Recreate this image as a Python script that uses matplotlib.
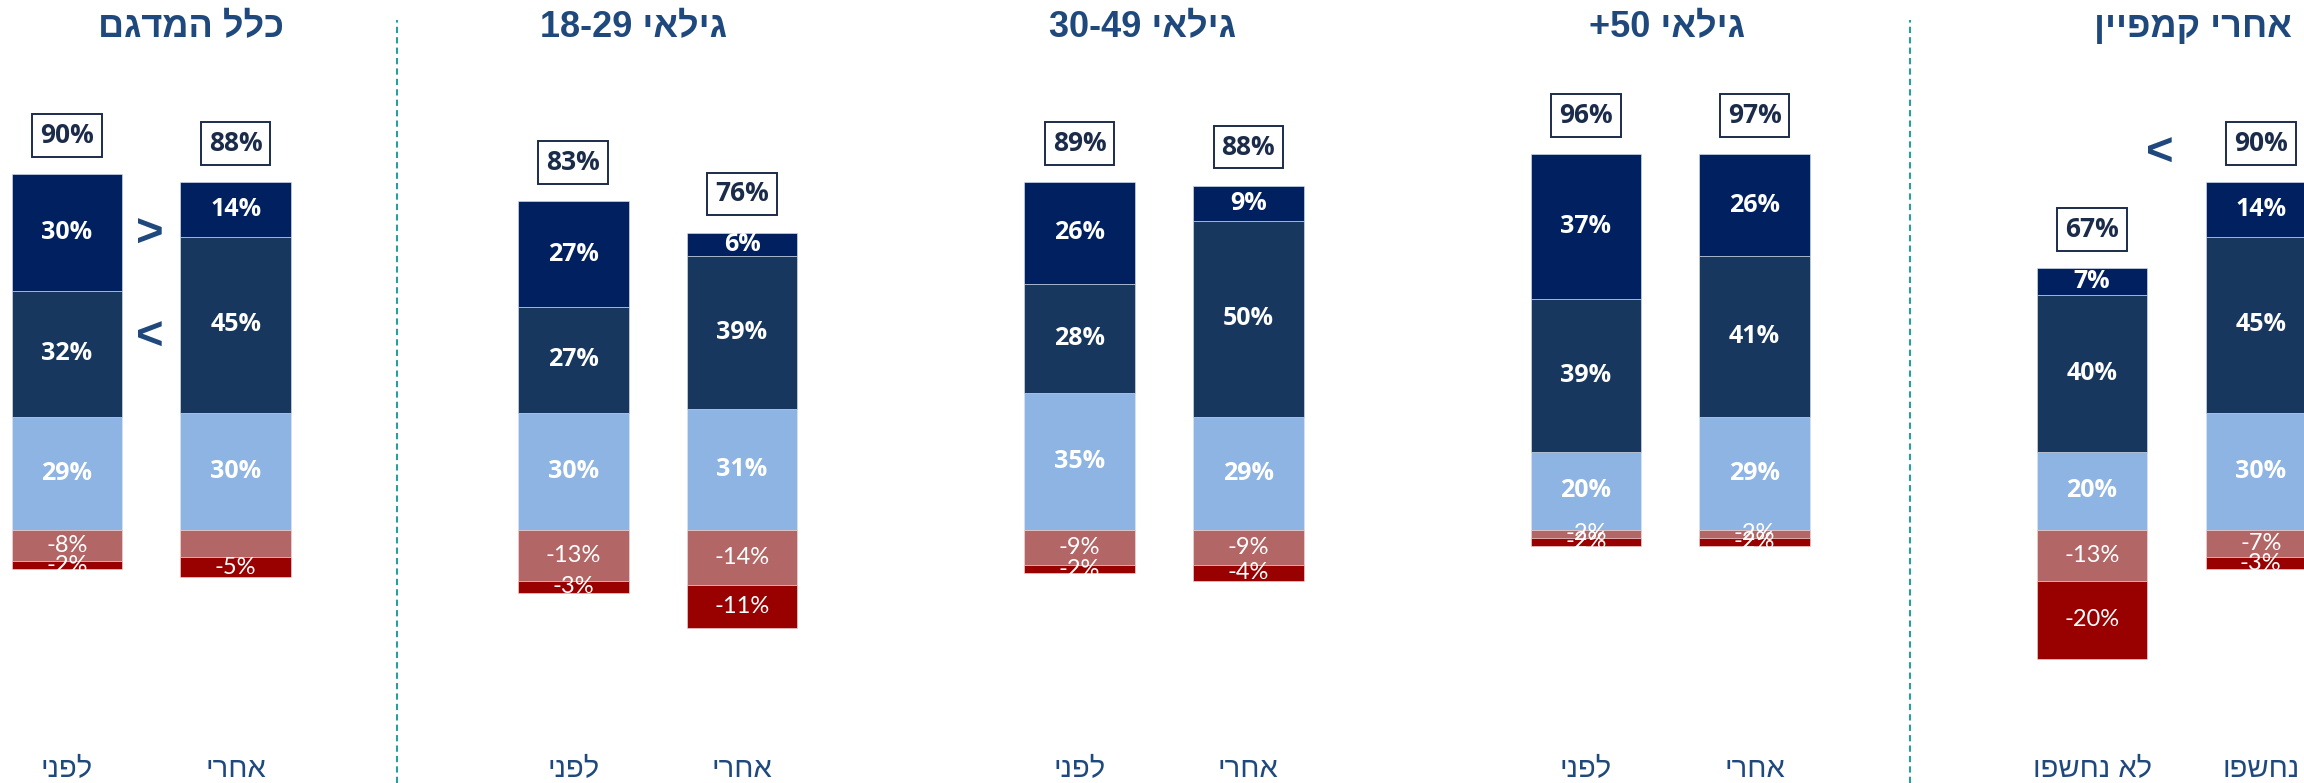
import matplotlib
matplotlib.use("Agg")
import matplotlib.pyplot as plt

# group titles and bar names (logical Hebrew order)
group_titles = ["כלל המדגם", "גילאי 18-29", "גילאי 30-49", "גילאי 50+", "אחרי קמפיין"]
bar_names = [["לפני", "אחרי"], ["לפני", "אחרי"], ["לפני", "אחרי"],
             ["לפני", "אחרי"], ["לא נחשפו", "נחשפו"]]

# positive segments, bottom to top: light blue, dark blue, navy
light_vals = [[29, 30], [30, 31], [35, 29], [20, 29], [20, 30]]
mid_vals = [[32, 45], [27, 39], [28, 50], [39, 41], [40, 45]]
top_vals = [[30, 14], [27, 6], [26, 9], [37, 26], [7, 14]]
# negative segments, from zero downwards
neg1_vals = [[-8, -7], [-13, -14], [-9, -9], [-2, -2], [-13, -7]]
neg2_vals = [[-2, -5], [-3, -11], [-2, -4], [-2, -2], [-20, -3]]
totals = [[90, 88], [83, 76], [89, 88], [96, 97], [67, 90]]

# label of G1 "after" -7% segment is not shown in the original
hidden_neg1 = [(0, 1)]

C_LIGHT = "#8EB4E3"
C_MID = "#17375E"
C_TOP = "#002060"
C_NEG1 = "#B36666"
C_NEG2 = "#990000"
C_TEXT = "#1F497D"
C_BOX = "#1B2C4B"
C_SEP = "#2A9D9D"


def rtl(s):
    # matplotlib has no bidi support: put the words in visual order
    out = []
    for w in s.split(" ")[::-1]:
        if any("\u0590" <= c <= "\u05ff" for c in w):
            out.append(w[::-1])
        elif w.endswith("+"):
            out.append("+" + w[:-1])
        else:
            out.append(w)
    return " ".join(out)


HEB = ["Liberation Sans", "DejaVu Sans"]

fig = plt.figure(figsize=(23.04, 7.83), dpi=100)
ax = fig.add_axes([0, 0, 1, 1])
ax.set_xlim(-0.397, 13.256)
ax.set_ylim(-64.7, 135.5)
ax.axis("off")

width = 0.655
for g in range(5):
    for b in range(2):
        x = g * 3 + b
        segs = [(0, light_vals[g][b], C_LIGHT),
                (light_vals[g][b], mid_vals[g][b], C_MID),
                (light_vals[g][b] + mid_vals[g][b], top_vals[g][b], C_TOP)]
        for bottom, h, col in segs:
            ax.bar(x, h, width, bottom=bottom, color=col, edgecolor="#DCE6F2", linewidth=0.4)
            ax.text(x, bottom + h / 2, f"{h}%", ha="center", va="center", color="white",
                    fontsize=18, fontweight="bold", family="Open Sans")
        n1 = neg1_vals[g][b]
        n2 = neg2_vals[g][b]
        ax.bar(x, n1, width, color=C_NEG1, edgecolor="#F2DCDB", linewidth=0.4)
        ax.bar(x, n2, width, bottom=n1, color=C_NEG2, edgecolor="#F2DCDB", linewidth=0.4)
        if (g, b) not in hidden_neg1:
            ax.text(x, n1 / 2, f"{n1}%", ha="center", va="center", color="white",
                    fontsize=17, family="Lato")
        ax.text(x, n1 + n2 / 2, f"{n2}%", ha="center", va="center", color="white",
                fontsize=17, family="Lato")

        stack_top = light_vals[g][b] + mid_vals[g][b] + top_vals[g][b]
        ax.text(x, stack_top + 9.9, f"{totals[g][b]}%", ha="center", va="center",
                color=C_BOX, fontsize=19, fontweight="bold", family="Open Sans",
                bbox=dict(boxstyle="square,pad=0.3", facecolor="white",
                          edgecolor=C_BOX, linewidth=1.4))

        ax.text(x, -61.2, rtl(bar_names[g][b]), ha="center", va="center",
                color=C_TEXT, fontsize=21, family=HEB)

# group titles, placed as in the original slide
title_x = [0.735, 3.354, 6.37, 9.48, 12.6]
for g in range(5):
    ax.text(title_x[g], 128.4, rtl(group_titles[g]), ha="center", va="center",
            color=C_TEXT, fontsize=26, fontweight="bold", family=HEB)

# comparison marks
ax.text(0.49, 75.4, ">", ha="center", va="center", color=C_TEXT, fontsize=34,
        fontweight="bold", family=HEB)
ax.text(0.49, 49.1, "<", ha="center", va="center", color=C_TEXT, fontsize=34,
        fontweight="bold", family=HEB)
ax.text(12.40, 96.2, "<", ha="center", va="center", color=C_TEXT, fontsize=34,
        fontweight="bold", family=HEB)

# dashed separators
for sx in [1.956, 10.92]:
    ax.plot([sx, sx], [-64.7, 130.4], color=C_SEP, linewidth=1.5,
            linestyle=(0, (3, 2)))

fig.savefig("out.png", dpi=100)
